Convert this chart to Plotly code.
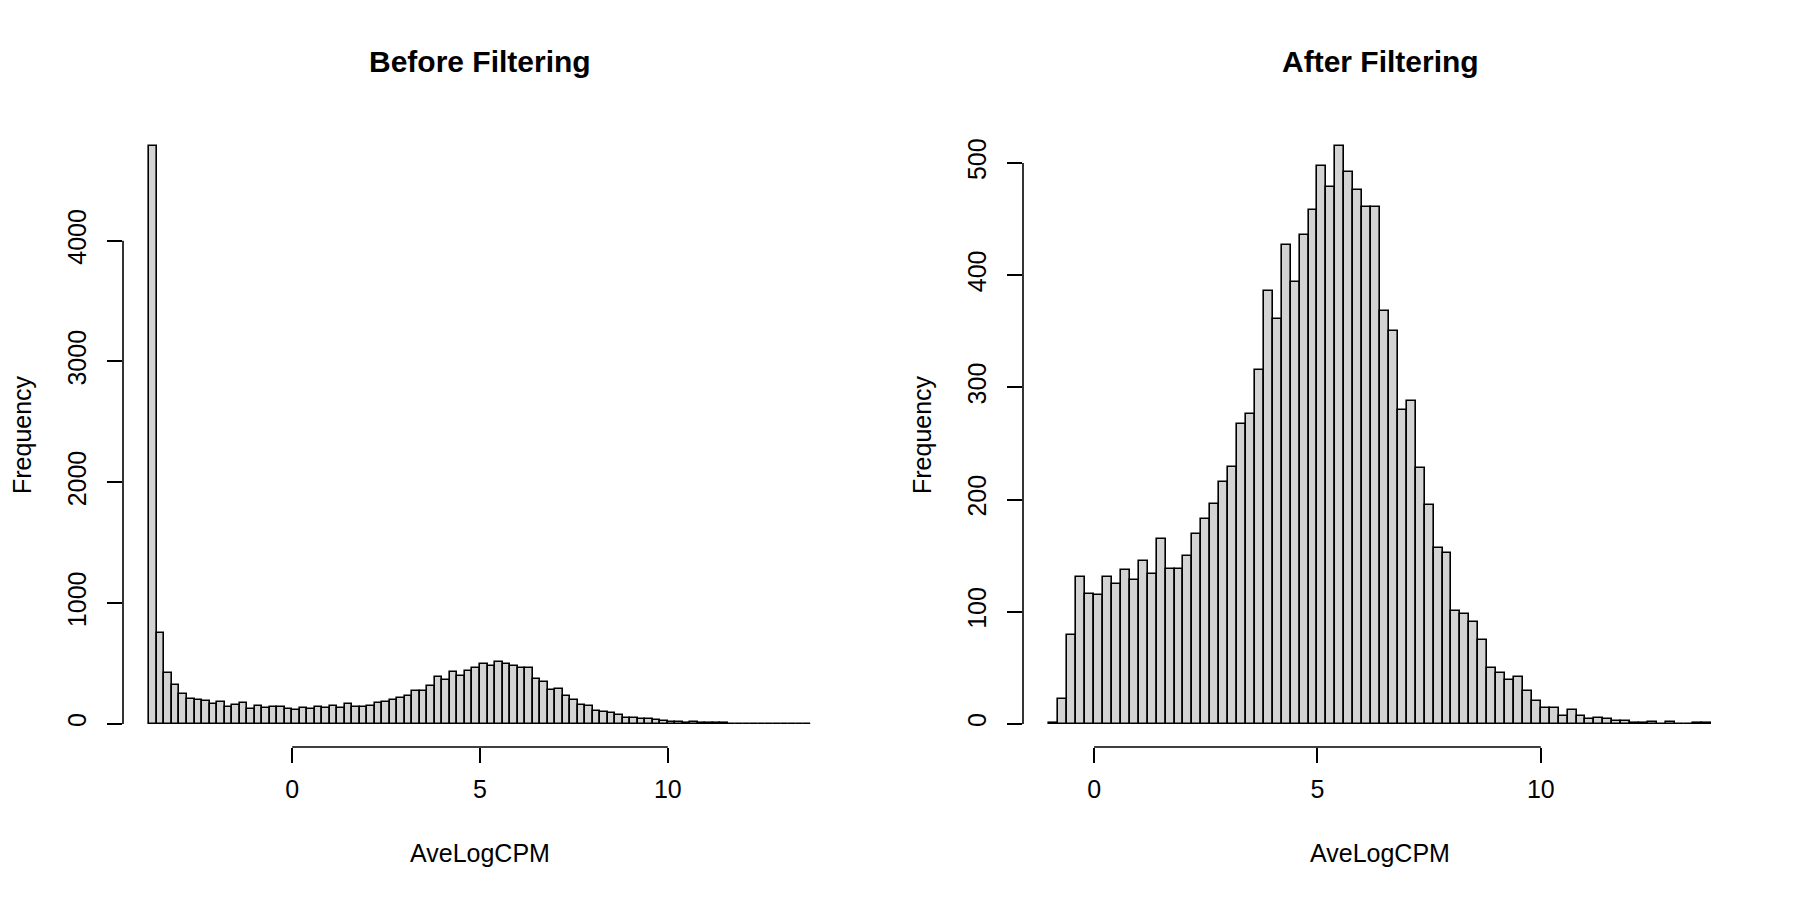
import numpy as np
import plotly.graph_objects as go

# histogram counts (bins of width 0.2)
bin_width = 0.2
before_start = -3.8
before_counts = [
    4783, 753, 421, 322, 248, 204, 196, 188, 165, 182,
    140, 160, 177, 127, 152, 132, 138, 143, 124, 119,
    135, 127, 138, 130, 146, 134, 165, 138, 138, 150,
    169, 183, 196, 216, 229, 270, 275, 316, 386, 361,
    428, 394, 438, 459, 497, 479, 516, 492, 476, 461,
    461, 368, 349, 280, 288, 227, 194, 157, 152, 103,
    98, 91, 75, 50, 45, 39, 42, 29, 20, 14,
    14, 7, 12, 7, 4, 5, 4, 3, 3, 1,
    1, 2, 0, 2, 0, 0, 1, 1,
]
after_start = -1.0
after_counts = [
    1, 22, 79, 131, 116, 115, 131, 125, 137, 128,
    145, 134, 165, 138, 138, 150, 169, 183, 196, 216,
    229, 267, 276, 315, 386, 361, 427, 394, 436, 458,
    497, 479, 515, 492, 476, 461, 461, 368, 350, 280,
    288, 228, 195, 157, 152, 101, 98, 91, 75, 50,
    45, 39, 42, 29, 20, 14, 14, 7, 12, 7,
    4, 5, 4, 3, 3, 1, 1, 2, 0, 2,
    0, 0, 1, 1,
]
x_ticks = [0, 5, 10]
before_yticks = [0, 1000, 2000, 3000, 4000]
after_yticks = [0, 100, 200, 300, 400, 500]
titles = ["Before Filtering", "After Filtering"]

# the page body has an 8px margin, so the figure is a bit smaller and
# positions below (given in window pixels) are shifted by it
OFF = 8
FW, FH = 1800 - OFF, 900 - OFF
FONT = "Liberation Sans, Arial, Helvetica, sans-serif"


def px_x(p):
    return (p - OFF) / FW


def px_y(p):
    return 1 - (p - OFF) / FH


# plot regions in window pixels (R style margins)
left_px = [(123, 837), (1023, 1737)]
top_px, bottom_px = 123, 747

fig = go.Figure()

panels = [
    (before_start, before_counts, before_yticks),
    (after_start, after_counts, after_yticks),
]

for i, (start, counts, yticks) in enumerate(panels):
    n = len(counts)
    centers = np.round(start + bin_width * (np.arange(n) + 0.5), 3)
    lo, hi = start, start + bin_width * n
    pad = 0.04 * (hi - lo)
    ymax = max(counts)
    xa = "x" if i == 0 else "x2"
    ya = "y" if i == 0 else "y2"
    fig.add_trace(go.Bar(
        x=centers, y=counts, width=bin_width,
        marker=dict(color="#D3D3D3", line=dict(color="black", width=1.6)),
        xaxis=xa, yaxis=ya, showlegend=False, hoverinfo="x+y",
    ))
    x0p, x1p = left_px[i]
    axis_common = dict(
        showgrid=False, zeroline=False, showline=False,
        ticks="outside", ticklen=15, tickwidth=1.6, tickcolor="black",
        tickfont=dict(family=FONT, size=25, color="black"),
    )
    key = "" if i == 0 else "2"
    fig.update_layout(**{
        "xaxis" + key: dict(
            domain=[px_x(x0p), px_x(x1p)], range=[lo - pad, hi + pad],
            tickvals=x_ticks, anchor=ya, ticklabelstandoff=5,
            **axis_common,
        ),
        "yaxis" + key: dict(
            domain=[px_y(bottom_px), px_y(top_px)],
            range=[-0.04 * ymax, 1.04 * ymax],
            tickvals=yticks, tickangle=-90, anchor=xa, ticklabelstandoff=11,
            **axis_common,
        ),
    })
    # R-style axis lines spanning only the tick range
    fig.add_shape(type="line", xref=xa, yref=ya + " domain",
                  x0=min(x_ticks), x1=max(x_ticks), y0=0, y1=0,
                  line=dict(color="black", width=1.6))
    fig.add_shape(type="line", xref=xa + " domain", yref=ya,
                  x0=0, x1=0, y0=min(yticks), y1=max(yticks),
                  line=dict(color="black", width=1.6))
    cx = px_x((x0p + x1p) / 2)
    fig.add_annotation(text="<b>" + titles[i] + "</b>", x=cx, y=px_y(62),
                       xref="paper", yref="paper", showarrow=False,
                       xanchor="center", yanchor="middle",
                       font=dict(family=FONT, size=30, color="black"))
    fig.add_annotation(text="AveLogCPM", x=cx, y=px_y(853),
                       xref="paper", yref="paper", showarrow=False,
                       xanchor="center", yanchor="middle",
                       font=dict(family=FONT, size=25, color="black"))
    fig.add_annotation(text="Frequency", x=px_x(x0p - 101),
                       y=px_y((top_px + bottom_px) / 2),
                       xref="paper", yref="paper", showarrow=False,
                       xanchor="center", yanchor="middle", textangle=-90,
                       font=dict(family=FONT, size=25, color="black"))

fig.update_layout(
    width=FW, height=FH,
    margin=dict(l=0, r=0, t=0, b=0),
    paper_bgcolor="white", plot_bgcolor="white",
    bargap=0,
    font=dict(family=FONT, color="black"),
)

fig.write_html("out.html", config={"displayModeBar": False})
